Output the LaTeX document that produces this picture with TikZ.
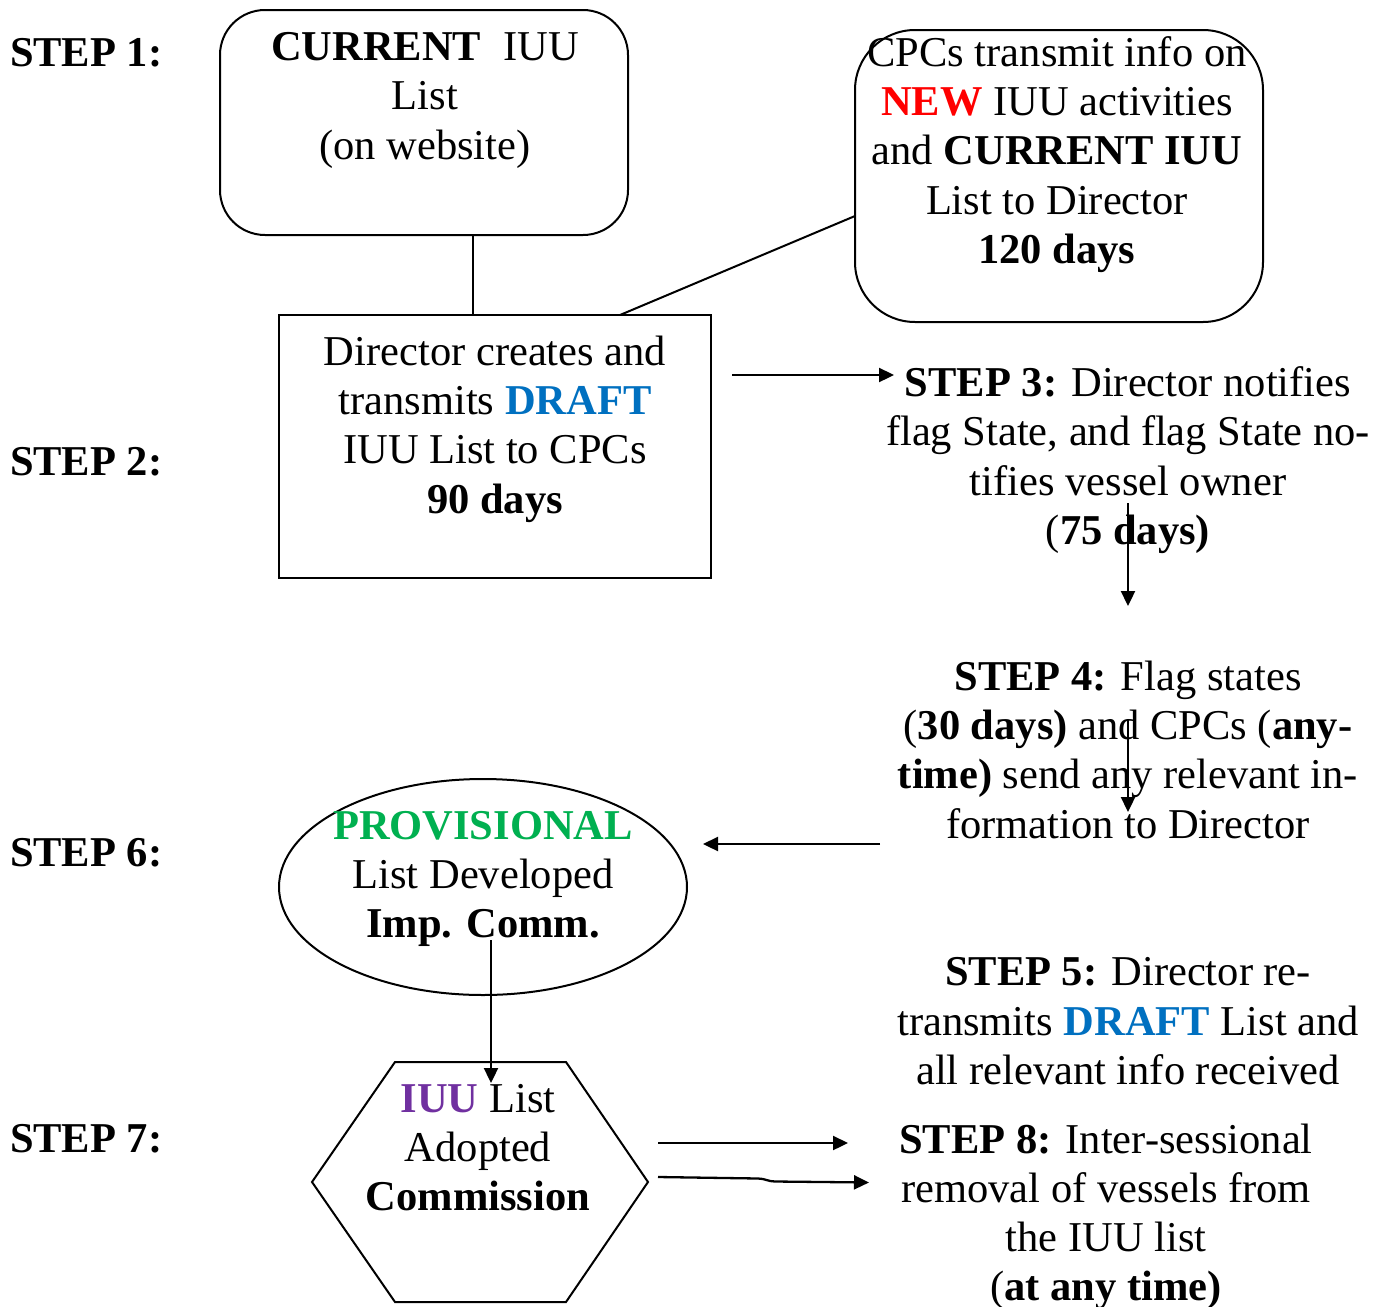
\documentclass[tikz,border=0pt]{standalone}
\usepackage{fontspec}
\setmainfont{Liberation Serif}
\usetikzlibrary{arrows.meta,shapes.geometric}
\definecolor{newred}{HTML}{FF0000}
\definecolor{draftblue}{HTML}{0070C0}
\definecolor{provgreen}{HTML}{00B050}
\definecolor{iuupurple}{HTML}{7030A0}
\begin{document}
\begin{tikzpicture}[x=1pt,y=-1pt,
  txt/.style={inner sep=0pt, outer sep=0pt, anchor=base, font=\fontsize{42.5}{49.5}\selectfont},
  steplabel/.style={txt, anchor=base west, font=\fontsize{42.5}{49.5}\selectfont\bfseries},
  shapeline/.style={draw=black, line width=2pt, inner sep=0pt, outer sep=0pt},
  conn/.style={line width=2pt},
  arr/.style={line width=2.3pt, -{Triangle[length=15pt,width=14pt]}}]
\useasboundingbox[fill=white] (0,0) rectangle (1385,1307);

% ---- shapes ----
\node[shapeline, rectangle, rounded corners=45pt, minimum width=408pt, minimum height=225pt] (box1) at (424,122.5) {};
\node[shapeline, rectangle, rounded corners=60pt, minimum width=408pt, minimum height=292pt] (boxR) at (1059,176) {};
\node[shapeline, rectangle, minimum width=432pt, minimum height=263pt] (box2) at (495,446.5) {};
\node[shapeline, ellipse, minimum width=408pt, minimum height=216pt] (prov) at (483,887) {};
\coordinate (hA) at (395,1062);
\coordinate (hB) at (566,1062);
\coordinate (hC) at (648,1182);
\coordinate (hD) at (566,1302);
\coordinate (hE) at (395,1302);
\coordinate (hF) at (312,1182);
\draw[line width=2pt, line join=miter] (hA) -- (hB) -- (hC) -- (hD) -- (hE) -- (hF) -- cycle;

% ---- step labels ----
\node[steplabel] (s1) at (10,66) {STEP 1:};
\node[steplabel] (s2) at (10,475) {STEP 2:};
\node[steplabel] (s6) at (10,866) {STEP 6:};
\node[steplabel] (s7) at (10,1152) {STEP 7:};

% ---- box 1 text ----
\node[txt] (b1a) at (425,60) {\textbf{CURRENT}\hspace{22pt}IUU};
\node[txt] (b1b) at (425,109.5) {List};
\node[txt] (b1c) at (425,159) {(on website)};

% ---- right box text ----
\node[txt] (bRa) at (1057,66) {CPCs transmit info on};
\node[txt] (bRb) at (1057,115) {\textcolor{newred}{\textbf{NEW}} IUU activities};
\node[txt] (bRc) at (1057,164) {and \textbf{CURRENT IUU}};
\node[txt] (bRd) at (1057,214) {List to Director};
\node[txt] (bRe) at (1057,263) {\textbf{120 days}};

% ---- box 2 text ----
\node[txt] (b2a) at (495,365) {Director creates and};
\node[txt] (b2b) at (495,414) {transmits \textcolor{draftblue}{\textbf{DRAFT}}};
\node[txt] (b2c) at (495,463) {IUU List to CPCs};
\node[txt] (b2d) at (495,513) {\textbf{90 days}};

% ---- step 3 ----
\node[txt] (t3a) at (1128,396) {\textbf{STEP 3:} Director notifies};
\node[txt] (t3b) at (1128,445) {flag State, and flag State no-};
\node[txt] (t3c) at (1128,495) {tifies vessel owner};
\node[txt] (t3d) at (1128,544) {(\textbf{75 days)}};

% ---- step 4 ----
\node[txt] (t4a) at (1128,690) {\textbf{STEP 4:} Flag states};
\node[txt] (t4b) at (1128,739) {(\textbf{30 days)} and CPCs (\textbf{any-}};
\node[txt] (t4c) at (1128,788) {\textbf{time)} send any relevant in-};
\node[txt] (t4d) at (1128,838) {formation to Director};

% ---- ellipse text ----
\node[txt] (e1) at (483,839) {\textcolor{provgreen}{\textbf{PROVISIONAL}}};
\node[txt] (e2) at (483,888) {List Developed};
\node[txt] (e3) at (483,937) {\textbf{Imp. Comm.}};

% ---- step 5 ----
\node[txt] (t5a) at (1128,985) {\textbf{STEP 5:} Director re-};
\node[txt] (t5b) at (1128,1035) {transmits \textcolor{draftblue}{\textbf{DRAFT}} List and};
\node[txt] (t5c) at (1128,1084) {all relevant info received};

% ---- hexagon text ----
\node[txt] (h1) at (478,1112) {\textcolor{iuupurple}{\textbf{IUU}} List};
\node[txt] (h2) at (478,1161) {Adopted};
\node[txt] (h3) at (478,1210) {\textbf{Commission}};

% ---- step 8 ----
\node[txt] (t8a) at (1106,1153) {\textbf{STEP 8:} Inter-sessional};
\node[txt] (t8b) at (1106,1202) {removal of vessels from};
\node[txt] (t8c) at (1106,1251) {the IUU list};
\node[txt] (t8d) at (1106,1300) {(\textbf{at any time)}};

% ---- connectors ----
\coordinate (x12) at (473,0);
\draw[conn] (box1.south -| x12) -- (box2.north -| x12);
\coordinate (x2R) at (620,0);
\coordinate (y2R) at (0,216);
\draw[conn] (box2.north -| x2R) -- (boxR.west |- y2R);

\coordinate (a1s) at (732,375);
\coordinate (a1e) at (894,375);
\draw[arr] (a1s) -- (a1e);

\coordinate (a2s) at (1128,503);
\coordinate (a2e) at (1128,606);
\draw[arr] (a2s) -- (a2e);

\coordinate (a3s) at (1128,719);
\coordinate (a3e) at (1128,812);
\draw[arr] (a3s) -- (a3e);

\coordinate (a4s) at (880,844);
\coordinate (a4e) at (703,844);
\draw[arr] (a4s) -- (a4e);

\coordinate (a5s) at (491,940);
\coordinate (a5e) at (491,1083);
\draw[arr] (a5s) -- (a5e);

\coordinate (a6s) at (658,1143);
\coordinate (a6e) at (848,1143);
\draw[arr] (a6s) -- (a6e);

\coordinate (a7s) at (658,1177);
\coordinate (a7m1) at (758,1178.5);
\coordinate (a7m2) at (775,1181.5);
\coordinate (a7e) at (869,1182.5);
\draw[arr] (a7s) -- (a7m1) .. controls (765,1178.5) and (768,1181.5) .. (a7m2) -- (a7e);

\end{tikzpicture}
\end{document}
